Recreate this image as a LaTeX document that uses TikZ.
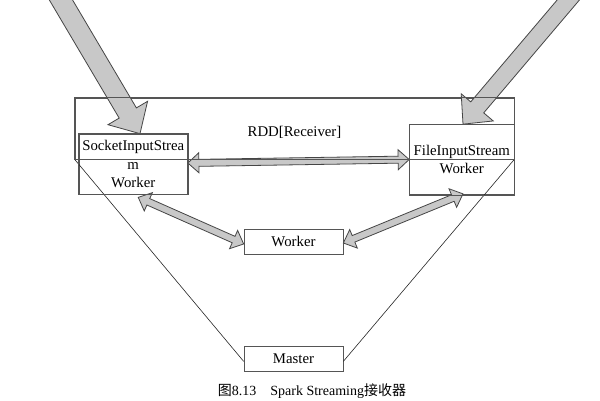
\documentclass[tikz,border=0pt]{standalone}
\usepackage{fontspec}
\setmainfont{Liberation Serif}
\newfontfamily\cjk{Noto Sans CJK SC}
\usetikzlibrary{calc}
\definecolor{boxline}{HTML}{555555}
\definecolor{arrline}{HTML}{454545}
\definecolor{arrfill}{HTML}{C8C8C8}
\tikzset{
  boxnode/.style={draw=boxline, line width=0.7pt, rectangle, inner sep=0pt, align=center,
     font=\fontsize{14.8}{18.5}\selectfont},
  fatstyle/.style={draw=arrline, fill=arrfill, line width=0.8pt, line join=miter},
  thinline/.style={draw=black!85, line width=0.6pt}
}
\newcommand{\fatone}[5]{%
  \coordinate (fa-h) at ($(#2)!#5!(#1)$);
  \draw[fatstyle] ($(#1)!#3!90:(#2)$) -- ($(fa-h)!#3!90:(#2)$) -- ($(fa-h)!#4!90:(#2)$) -- (#2)
     -- ($(fa-h)!#4!-90:(#2)$) -- ($(fa-h)!#3!-90:(#2)$) -- ($(#1)!#3!-90:(#2)$) -- cycle;}
\newcommand{\fattwo}[5]{%
  \coordinate (fb-a) at ($(#1)!#5!(#2)$);
  \coordinate (fb-b) at ($(#2)!#5!(#1)$);
  \draw[fatstyle] (#1) -- ($(fb-a)!#4!90:(#2)$) -- ($(fb-a)!#3!90:(#2)$) -- ($(fb-b)!#3!90:(#2)$)
     -- ($(fb-b)!#4!90:(#2)$) -- (#2) -- ($(fb-b)!#4!-90:(#2)$) -- ($(fb-b)!#3!-90:(#2)$)
     -- ($(fb-a)!#3!-90:(#2)$) -- ($(fb-a)!#4!-90:(#2)$) -- cycle;}
\begin{document}
\begin{tikzpicture}[x=1pt,y=-1pt]
\useasboundingbox (0,0) rectangle (600,400);
\clip (0,0) rectangle (600,400);
\fill[white] (0,0) rectangle (600,400);

% nodes
\node[boxnode, minimum width=439pt, minimum height=61pt,
      label={[name=rddlabel, font=\fontsize{14.8}{18.5}\selectfont, yshift=-3.5pt]center:RDD[Receiver]}]
      (rdd) at (294.5,128.5) {};
\node[boxnode, minimum width=108.5pt, minimum height=60pt] (socket) at (133.25,164)
      {SocketInputStrea\\m\\Worker};
\node[boxnode, minimum width=104.5pt, minimum height=70pt] (file) at (461.75,159.5)
      {FileInputStream\\Worker};
\node[boxnode, minimum width=99pt, minimum height=25pt] (worker) at (293.5,241.5) {Worker};
\node[boxnode, minimum width=99pt, minimum height=25pt] (master) at (293.5,358.5) {Master};
\node[anchor=south, inner sep=0pt, font=\fontsize{14}{16}\selectfont] (caption) at (312,398.5)
      {{\cjk 图}8.13\quad Spark Streaming{\cjk 接收器}};

% diagonal lines to master
\coordinate (ml) at ($(master.south west)+(0,-10)$);
\coordinate (mr) at ($(master.south east)+(0,-10)$);
\draw[thinline] (rdd.south west) -- (ml);
\draw[thinline] (rdd.south east) -- (mr);

% incoming big arrows
\coordinate (lin) at (50.8,-17.2);
\coordinate (lintip) at ($(socket.north)+(6.75,0)$);
\fatone{lin}{lintip}{10pt}{23pt}{24pt}
\coordinate (rin) at (581,-15);
\coordinate (rintip) at ($(file.north)+(1.25,0)$);
\fatone{rin}{rintip}{8.5pt}{21pt}{22pt}

% double arrows between workers
\coordinate (sf1) at ($(socket.east)+(0,-1)$);
\coordinate (sf2) at (file.west);
\fattwo{sf1}{sf2}{3.5pt}{10pt}{11pt}
\coordinate (sw1) at ($(socket.south)+(5,3)$);
\coordinate (sw2) at ($(worker.west)+(0,2.5)$);
\fattwo{sw1}{sw2}{3.5pt}{10pt}{11pt}
\coordinate (wf1) at ($(worker.east)+(0,1.5)$);
\coordinate (wf2) at ($(file.south)+(1.25,-1)$);
\fattwo{wf1}{wf2}{3.5pt}{10pt}{11pt}

% redraw box outlines on top
\draw[boxline, line width=0.7pt] (rdd.north west) rectangle (rdd.south east);
\draw[boxline, line width=0.7pt] (socket.north west) rectangle (socket.south east);
\draw[boxline, line width=0.7pt] (file.north west) rectangle (file.south east);
\end{tikzpicture}
\end{document}
